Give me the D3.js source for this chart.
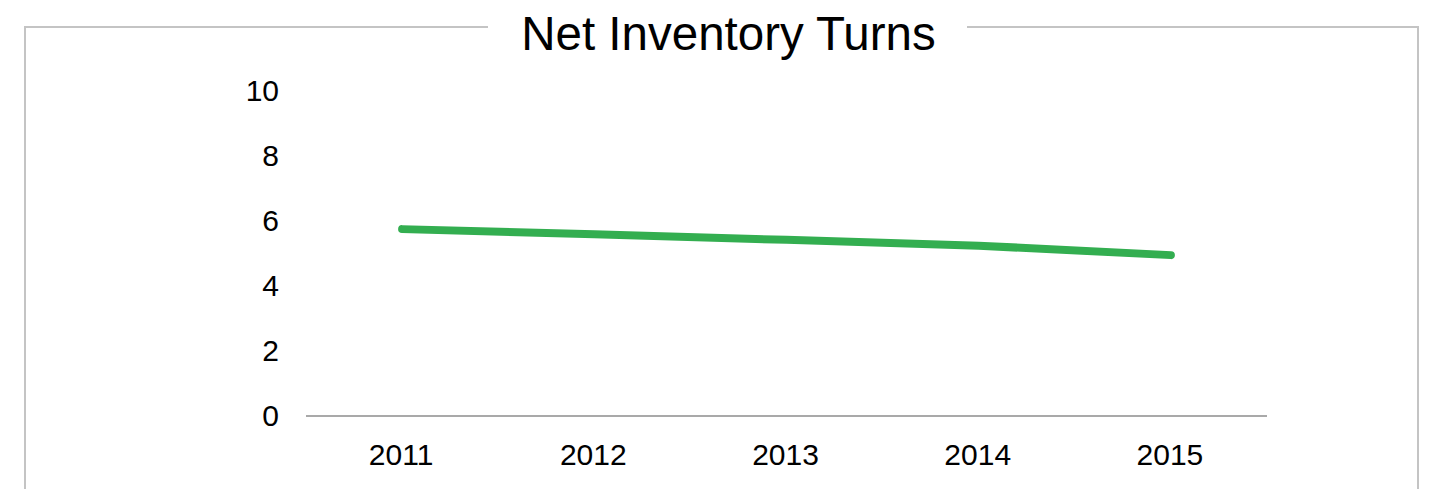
<!DOCTYPE html>
<html>
<head>
<meta charset="utf-8">
<script src="https://cdn.jsdelivr.net/npm/d3@7"></script>
<style>
  html, body { margin: 0; padding: 0; background: #fff; }
  svg { display: block; font-family: Arial, "Liberation Sans", sans-serif; }
</style>
</head>
<body>
<svg id="chart" width="1429" height="489"></svg>
<script>
// Net inventory turns by fiscal year
const years = ["2011", "2012", "2013", "2014", "2015"];
const turns = [5.75, 5.59, 5.42, 5.24, 4.95];
const yTicks = [0, 2, 4, 6, 8, 10];
const chartTitle = "Net Inventory Turns";

const svg = d3.select("#chart");
const W = 1429, H = 489;

const plot = { left: 306, right: 1267, top: 91, bottom: 416 };

const x = d3.scalePoint().domain(years).range([plot.left, plot.right]).padding(0.5);
const y = d3.scaleLinear().domain([0, 10]).range([plot.bottom, plot.top]);

// Outer frame, open at the bottom, with a gap for the title
const frame = { left: 25, top: 27, right: 1418 };
const gapL = 488, gapR = 967;
svg.append("path")
  .attr("d", `M${frame.left},${H + 5} L${frame.left},${frame.top} L${gapL},${frame.top}
              M${gapR},${frame.top} L${frame.right},${frame.top} L${frame.right},${H + 5}`)
  .attr("fill", "none")
  .attr("stroke", "#c4c4c4")
  .attr("stroke-width", 2);

// Title
svg.append("text")
  .attr("x", 728.5)
  .attr("y", 50)
  .attr("text-anchor", "middle")
  .attr("font-size", 47.5)
  .attr("fill", "#000")
  .text(chartTitle);

// Y axis labels (no axis line)
const yAxis = d3.axisLeft(y).tickValues(yTicks).tickSize(0).tickPadding(0).tickFormat(d3.format("d"));
const gy = svg.append("g").attr("transform", `translate(279,0)`).call(yAxis);
gy.select(".domain").remove();
gy.selectAll("text")
  .attr("font-size", 30)
  .attr("font-family", "Arial, 'Liberation Sans', sans-serif")
  .attr("fill", "#000");

// X axis: baseline and category labels
const xAxis = d3.axisBottom(x).tickSize(0).tickPadding(0);
const gx = svg.append("g").attr("transform", `translate(0,${plot.bottom})`).call(xAxis);
gx.select(".domain")
  .attr("d", `M${plot.left},0H${plot.right}`)
  .attr("stroke", "#a9a9a9")
  .attr("stroke-width", 2);
gx.selectAll("text")
  .attr("font-size", 30)
  .attr("font-family", "Arial, 'Liberation Sans', sans-serif")
  .attr("fill", "#000")
  .attr("dx", -1.5)
  .attr("dy", null)
  .attr("y", 49);

// Series line
const line = d3.line()
  .x((d, i) => x(years[i]))
  .y(d => y(d));

svg.append("path")
  .datum(turns)
  .attr("d", line)
  .attr("fill", "none")
  .attr("stroke", "#33ae50")
  .attr("stroke-width", 8)
  .attr("stroke-linecap", "round")
  .attr("stroke-linejoin", "round");
</script>
</body>
</html>
